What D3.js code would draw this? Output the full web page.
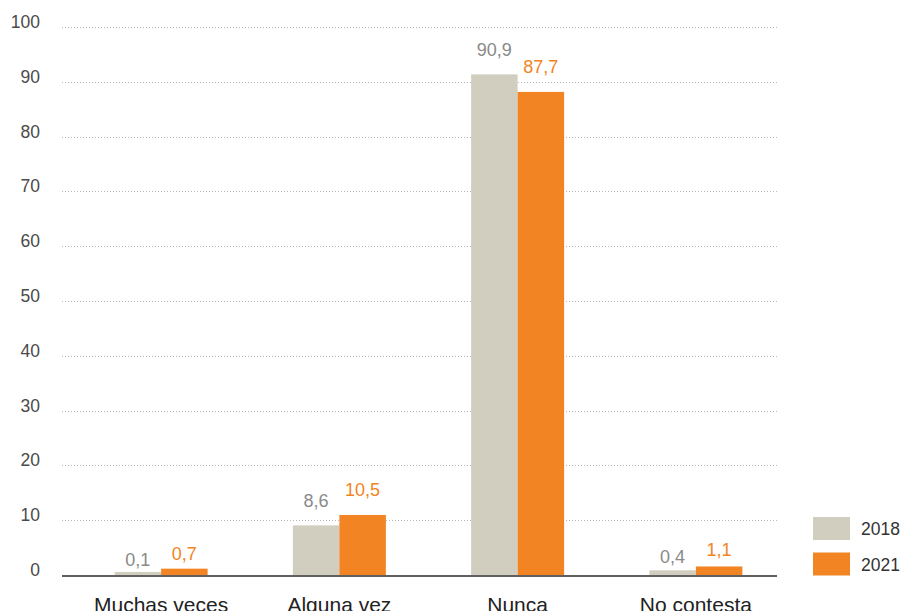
<!DOCTYPE html>
<html><head><meta charset="utf-8">
<script src="https://cdn.jsdelivr.net/npm/d3@7"></script>
<style>body{margin:0;background:#fff}svg{display:block;font-family:"Liberation Sans",Arial,Helvetica,sans-serif}</style>
</head><body><svg id="c" width="903" height="611"></svg>
<script>
const categories = ["Muchas veces", "Alguna vez", "Nunca", "No contesta"];
const seriesNames = ["2018", "2021"];
const values2018 = [0.1, 8.6, 90.9, 0.4];
const values2021 = [0.7, 10.5, 87.7, 1.1];
const yTicks = [0, 10, 20, 30, 40, 50, 60, 70, 80, 90, 100];
const colors = {"2018": "#d1cec0", "2021": "#f28423"};
const labelColors = {"2018": "#8a8a8a", "2021": "#f28423"};

const svg = d3.select("#c");
const y = d3.scaleLinear().domain([0, 100]).range([575, 27]);
const x0 = d3.scaleBand().domain(categories).range([72, 785]).paddingInner(0).paddingOuter(0);
const barW = 46.5;
const x1 = d3.scaleBand().domain(seriesNames).range([-barW, barW]);
const fmt = v => d3.format(".1f")(v).replace(".", ",");

// gridlines
svg.append("g").selectAll("line").data(yTicks.filter(t => t > 0)).join("line")
  .attr("x1", 62).attr("x2", 777)
  .attr("y1", d => Math.round(y(d)) + 0.5).attr("y2", d => Math.round(y(d)) + 0.5)
  .attr("stroke", "#b8b8b8").attr("stroke-width", 1).attr("stroke-dasharray", "1,2");

// y labels
svg.append("g").selectAll("text").data(yTicks).join("text")
  .attr("x", 40).attr("y", d => y(d) + 1).attr("text-anchor", "end")
  .attr("font-size", 17.5).attr("fill", "#4a4a4a").text(d => d);

const rows = [];
categories.forEach((c, i) => {
  rows.push({cat: c, s: "2018", v: values2018[i]});
  rows.push({cat: c, s: "2021", v: values2021[i]});
});
const cx = d => x0(d.cat) + x0.bandwidth() / 2 + x1(d.s);
const topY = d => y(d.v) - 2.5;

svg.append("g").selectAll("rect").data(rows).join("rect")
  .attr("x", cx).attr("width", barW)
  .attr("y", topY).attr("height", d => y(0) + 1 - topY(d))
  .attr("fill", d => colors[d.s]);

svg.append("g").selectAll("text").data(rows).join("text")
  .attr("x", d => cx(d) + barW / 2)
  .attr("y", d => topY(d) - Math.min(18.5, 5 + 5 * d.v))
  .attr("text-anchor", "middle").attr("font-size", 18)
  .attr("fill", d => labelColors[d.s]).text(d => fmt(d.v));

// baseline axis
svg.append("line").attr("x1", 62).attr("x2", 777).attr("y1", 576).attr("y2", 576)
  .attr("stroke", "#606060").attr("stroke-width", 2);

// category labels
svg.append("g").selectAll("text").data(categories).join("text")
  .attr("x", d => x0(d) + x0.bandwidth() / 2).attr("y", 612)
  .attr("text-anchor", "middle").attr("font-size", 21).attr("fill", "#222").text(d => d);

// legend
const lg = svg.append("g").selectAll("g").data(seriesNames).join("g")
  .attr("transform", (d, i) => `translate(813,${517 + i * 35.5})`);
lg.append("rect").attr("width", 37).attr("height", 23).attr("fill", d => colors[d]);
lg.append("text").attr("x", 48).attr("y", 18).attr("font-size", 17.5).attr("fill", "#333").text(d => d);
</script></body></html>
